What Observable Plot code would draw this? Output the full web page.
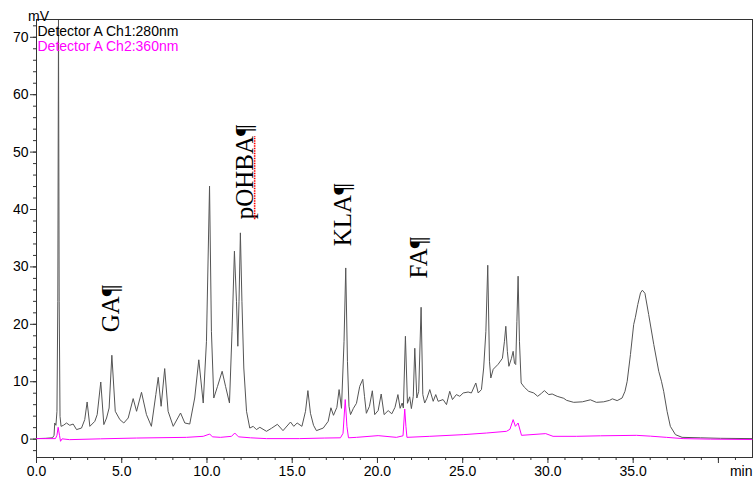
<!DOCTYPE html>
<html>
<head>
<meta charset="utf-8">
<script src="https://cdn.jsdelivr.net/npm/d3@7"></script>
<script src="https://cdn.jsdelivr.net/npm/@observablehq/plot@0.6"></script>
<style>
  body { margin: 0; background: #fff; }
</style>
</head>
<body>
<div id="chart"></div>
<script>
// ---- Data ----
const seriesNames = ["Detector A Ch1:280nm", "Detector A Ch2:360nm"];

// Channel 1 (280 nm): retention time (min) and signal (mV)
const ch1Time = [0, 0.53, 0.94, 1.03, 1.07, 1.14, 1.20, 1.25, 1.29, 1.33, 1.38, 1.44, 1.58, 1.76, 1.95, 2.15, 2.35, 2.64, 2.83, 2.97,
  3.13, 3.42, 3.56, 3.77, 3.95, 4.11, 4.26, 4.42, 4.62, 4.89, 5.12, 5.38, 5.67, 5.87, 6.16, 6.45, 6.74, 7.00, 7.14, 7.31,
  7.52, 7.72, 8.02, 8.45, 8.70, 8.99, 9.28, 9.52, 9.78, 9.97, 10.15, 10.26, 10.40, 10.62, 10.89, 11.09, 11.32, 11.47, 11.61, 11.73,
  11.81, 11.88, 11.96, 12.05, 12.16, 12.32, 12.51, 12.71, 12.90, 13.10, 13.49, 13.78, 14.13, 14.46, 14.90, 15.09, 15.29, 15.57, 15.78, 15.92,
  16.07, 16.25, 16.42, 16.82, 17.11, 17.27, 17.42, 17.62, 17.75, 17.89, 18.04, 18.14, 18.24, 18.33, 18.42, 18.59, 18.77, 18.96, 19.14, 19.24,
  19.35, 19.53, 19.70, 19.84, 20.04, 20.22, 20.39, 20.63, 20.84, 21.03, 21.20, 21.33, 21.45, 21.52, 21.64, 21.76, 21.89, 21.99, 22.10, 22.19,
  22.31, 22.42, 22.56, 22.66, 22.77, 22.90, 23.07, 23.27, 23.42, 23.56, 23.85, 24.05, 24.24, 24.40, 24.63, 24.83, 25.03, 25.32, 25.51, 25.77,
  25.91, 26.10, 26.23, 26.36, 26.47, 26.57, 26.65, 26.79, 27.08, 27.33, 27.45, 27.53, 27.62, 27.71, 27.86, 27.96, 28.04, 28.11, 28.18, 28.25,
  28.33, 28.43, 28.62, 28.87, 29.17, 29.40, 29.62, 29.79, 30.05, 30.25, 30.54, 30.93, 31.09, 31.51, 32.02, 32.49, 32.84, 33.27, 33.62, 33.78,
  34.06, 34.35, 34.52, 34.65, 34.84, 35.03, 35.13, 35.27, 35.43, 35.54, 35.69, 35.91, 36.21, 36.50, 36.66, 36.79, 36.99, 37.18, 37.48, 37.87,
  38.94, 40.12, 41.97];
const ch1Mv = [0.09, 0.14, 0.23, 0.66, 2.81, 2.41, 4.85, 24.02, 73.0, 24.02, 3.97, 2.23, 2.41, 2.81, 2.41, 2.63, 1.66, 1.93, 3.40, 6.47,
  2.23, 3.10, 4.27, 9.95, 2.53, 3.68, 5.42, 14.61, 4.85, 3.40, 2.81, 3.68, 7.06, 4.85, 8.16, 4.27, 2.23, 7.76, 10.77, 5.72,
  12.29, 4.85, 2.23, 4.55, 2.81, 2.63, 7.16, 13.82, 6.29, 17.05, 44.07, 18.79, 7.16, 9.20, 11.82, 9.20, 6.29, 18.79, 32.74, 24.02,
  16.18, 24.02, 35.93, 24.02, 12.39, 4.85, 1.93, 2.23, 1.66, 2.06, 1.36, 1.88, 2.58, 1.48, 2.98, 2.23, 2.81, 2.23, 4.85, 8.45,
  4.50, 2.41, 1.48, 1.93, 3.10, 5.46, 4.15, 5.54, 8.63, 5.37, 17.05, 29.82, 13.56, 5.72, 4.27, 5.37, 6.24, 9.20, 10.42, 7.46,
  4.50, 5.72, 8.42, 4.27, 4.97, 7.86, 4.27, 4.97, 4.41, 5.54, 7.76, 5.37, 6.29, 5.42, 17.92, 6.24, 7.37, 5.32, 7.46, 15.83,
  7.16, 8.33, 22.97, 7.76, 6.29, 7.11, 8.63, 6.59, 7.76, 6.59, 6.89, 6.01, 8.33, 6.89, 7.76, 7.46, 8.04, 8.21, 8.04, 9.78,
  8.04, 8.63, 12.39, 18.79, 30.29, 13.56, 10.65, 12.17, 13.04, 14.08, 17.05, 19.66, 15.30, 12.69, 14.08, 15.30, 13.21, 12.99, 20.53, 28.38,
  17.05, 9.78, 9.03, 8.33, 8.04, 7.46, 7.98, 8.45, 7.76, 7.86, 7.46, 7.11, 6.76, 6.41, 6.50, 6.85, 6.41, 6.50, 6.76, 7.02,
  6.71, 7.16, 8.33, 10.08, 14.73, 19.96, 21.23, 23.44, 25.47, 25.94, 25.41, 21.70, 16.47, 11.82, 10.08, 8.33, 4.85, 2.23, 0.78, 0.31,
  0.23, 0.14, 0.09];

// Channel 2 (360 nm)
const ch2Time = [0, 1.11, 1.20, 1.27, 1.35, 1.41, 1.50, 1.94, 3.75, 5.87, 8.80, 9.78, 10.16, 10.32, 10.79, 11.44, 11.63, 11.85, 12.55, 13.49,
  15.43, 16.91, 17.83, 17.98, 18.11, 18.21, 18.30, 18.77, 20.04, 21.11, 21.50, 21.60, 21.67, 21.73, 23.07, 25.03, 26.39, 27.57, 27.77, 27.96,
  28.09, 28.25, 28.45, 29.87, 30.30, 31.67, 33.08, 35.19, 36.01, 36.95, 37.93, 39.53, 41.97];
const ch2Mv = [0.09, 0.09, 0.66, 2.06, 0.66, -0.38, 0.05, -0.09, 0.05, 0.19, 0.31, 0.49, 0.89, 0.40, 0.31, 0.49, 1.06, 0.40, 0.23, 0.09,
  0.09, 0.19, 0.23, 1.01, 6.89, 2.23, 0.23, 0.31, 0.61, 0.31, 0.58, 5.25, 2.23, 0.31, 0.49, 0.78, 1.06, 1.36, 1.71, 3.40,
  2.23, 2.81, 0.66, 0.96, 0.49, 0.49, 0.58, 0.66, 0.52, 0.31, 0.09, 0.0, -0.07];

// Peak annotations (label, retention time, signal level where the label starts)
const annoLabels = ["GA¶", "pOHBA¶", "KLA¶", "FA¶"];
const annoTime = [4.36, 12.21, 17.95, 22.45];
const annoMv = [18.6, 38.3, 33.6, 28.0];

// Axes
const xMajorTicks = [0, 5, 10, 15, 20, 25, 30, 35, 40];
const xTickLabels = ["0.0", "5.0", "10.0", "15.0", "20.0", "25.0", "30.0", "35.0", ""];
const xMinorTicks = [0, 1, 2, 3, 4, 5, 6, 7, 8, 9, 10, 11, 12, 13, 14, 15, 16, 17, 18, 19, 20, 21, 22, 23, 24, 25, 26, 27, 28, 29, 30, 31, 32, 33, 34, 35, 36, 37, 38, 39, 40, 41];
const yMajorTicks = [0, 10, 20, 30, 40, 50, 60, 70];
const yTickLabels = ["0", "10", "20", "30", "40", "50", "60", "70"];
const yMinorTicks = [-2, 0, 2, 4, 6, 8, 10, 12, 14, 16, 18, 20, 22, 24, 26, 28, 30, 32, 34, 36, 38, 40, 42, 44, 46, 48, 50, 52, 54, 56, 58, 60, 62, 64, 66, 68, 70, 72];
const xUnit = "min";
const yUnit = "mV";

// ---- Build tables ----
const ch1 = ch1Time.map((t, i) => ({t, v: ch1Mv[i]}));
const ch2 = ch2Time.map((t, i) => ({t, v: ch2Mv[i]}));
const annos = annoLabels.map((label, i) => ({label, t: annoTime[i], v: annoMv[i]}));

const sans = "'Liberation Sans', Arial, Helvetica, sans-serif";
const serif = "'Liberation Serif', 'Times New Roman', serif";

const chart = Plot.plot({
  width: 753,
  height: 490,
  marginLeft: 36,
  marginRight: 1,
  marginTop: 19,
  marginBottom: 33,
  style: {fontFamily: sans, fontSize: "14px", color: "#000", background: "#fff", overflow: "visible"},
  x: {domain: [0, 42]},
  y: {domain: [-3.2, 73.1]},
  marks: [
    Plot.axisY({ticks: yMinorTicks, tickSize: 3, tickFormat: () => "", label: null, stroke: "#333"}),
    Plot.axisY({ticks: yMajorTicks, tickSize: 6, tickPadding: 2, label: null, stroke: "#333",
      tickFormat: d => yTickLabels[yMajorTicks.indexOf(d)], fontSize: 14}),
    Plot.axisX({ticks: xMinorTicks, tickSize: 3, tickFormat: () => "", label: null, stroke: "#333"}),
    Plot.axisX({ticks: xMajorTicks, tickSize: 6, tickPadding: 3, label: null, stroke: "#333",
      tickFormat: d => xTickLabels[xMajorTicks.indexOf(d)], fontSize: 14}),
    Plot.frame({stroke: "#333"}),
    Plot.line(ch1, {x: "t", y: "v", stroke: "#555", strokeWidth: 1}),
    Plot.line(ch2, {x: "t", y: "v", stroke: "#ff00ff", strokeWidth: 1}),
    Plot.text(annos, {x: "t", y: "v", text: "label", rotate: -90, textAnchor: "start",
      fontFamily: serif, fontSize: 25, fill: "#000"}),
    Plot.text([seriesNames[0]], {text: d => d, frameAnchor: "top-left", textAnchor: "start", dx: 1, dy: 7, fill: "#000", fontSize: 14}),
    Plot.text([seriesNames[1]], {text: d => d, frameAnchor: "top-left", textAnchor: "start", dx: 1, dy: 22, fill: "#ff00ff", fontSize: 14}),
    Plot.text([yUnit], {text: d => d, frameAnchor: "top-left", textAnchor: "middle", dx: 2, dy: -8.5, fill: "#000", fontSize: 14}),
    Plot.text([xUnit], {text: d => d, frameAnchor: "bottom-right", textAnchor: "end", lineAnchor: "top", dy: 9, fill: "#000", fontSize: 14})
  ]
});
document.getElementById("chart").appendChild(chart);

// Red dotted spell-check underline beneath "pOHBA" (measured from the rendered text)
d3.select(chart).selectAll("text")
  .filter(function () { return this.textContent === annoLabels[1]; })
  .each(function () {
    const sel = d3.select(this);
    const word = annoLabels[1].replace("¶", "");
    sel.text(null);
    const span = sel.append("tspan").text(word);
    sel.append("tspan").text("¶");
    const len = span.node().getComputedTextLength();
    const fs = 25;
    d3.select(this.parentNode).append("line")
      .attr("transform", sel.attr("transform"))
      .attr("x1", 0).attr("x2", len)
      .attr("y1", 0.32 * fs + 2).attr("y2", 0.32 * fs + 2)
      .attr("stroke", "red")
      .attr("stroke-width", 1.6)
      .attr("stroke-dasharray", "1.5,1");
  });
</script>
</body>
</html>
